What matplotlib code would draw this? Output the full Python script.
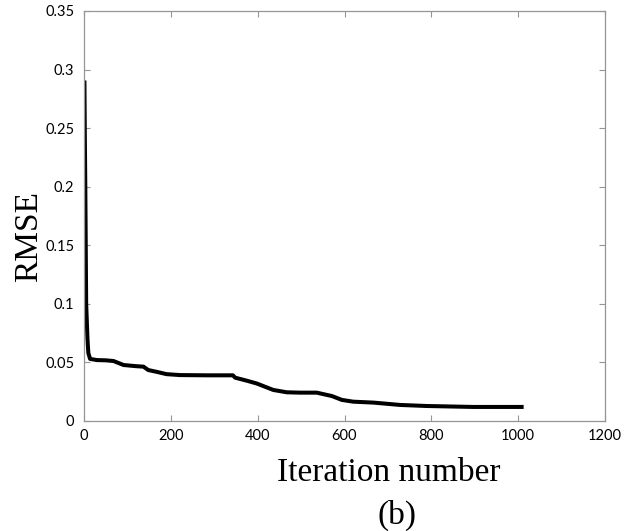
import numpy as np
import matplotlib
matplotlib.use("Agg")
import matplotlib.pyplot as plt

# RMSE vs iteration
iterations = [1, 2, 3, 5, 8, 10, 14, 30, 50, 68, 91, 120, 137, 148, 167, 190, 221,
              283, 343, 348, 375, 398, 436, 467, 498, 536, 571, 594, 620, 667,
              728, 790, 897, 1008]
rmse = [0.289, 0.24, 0.20, 0.10, 0.07, 0.058, 0.053, 0.052, 0.0518, 0.0512, 0.0478,
        0.0468, 0.0464, 0.0435, 0.042, 0.040, 0.0392, 0.039, 0.039, 0.037, 0.0344,
        0.032, 0.0265, 0.0245, 0.0242, 0.0242, 0.0213, 0.018, 0.0165, 0.0157,
        0.0137, 0.0128, 0.012, 0.012]

x_ticks = [0, 200, 400, 600, 800, 1000, 1200]
y_ticks = [0, 0.05, 0.1, 0.15, 0.2, 0.25, 0.3, 0.35]
y_tick_labels = ["0", "0.05", "0.1", "0.15", "0.2", "0.25", "0.3", "0.35"]

W, H = 631, 531
fig = plt.figure(figsize=(W / 100, H / 100), dpi=100)
ax = fig.add_axes([84 / W, 1 - 421 / H, (605 - 84) / W, (421 - 11) / H])

ax.plot(iterations, rmse, color="black", linewidth=2.9, solid_joinstyle="round")

ax.set_xlim(0, 1200)
ax.set_ylim(0, 0.35)
ax.set_xticks(x_ticks)
ax.set_yticks(y_ticks)
ax.set_yticklabels(y_tick_labels)

spine_gray = "#959595"
for s in ax.spines.values():
    s.set_color(spine_gray)
    s.set_linewidth(0.9)
ax.tick_params(direction="in", length=4, width=0.8, color=spine_gray,
               top=True, right=True, labelsize=10.5, labelcolor="black")
ax.tick_params(axis="x", pad=6)
ax.tick_params(axis="y", pad=7)
for lbl in ax.get_xticklabels() + ax.get_yticklabels():
    lbl.set_family("Lato")

serif = ["Liberation Serif", "DejaVu Serif"]
fig.text(389 / W, 1 - 481 / H, "Iteration number", family=serif, fontsize=24,
         ha="center", va="baseline")
fig.text(397 / W, 1 - 524 / H, "(b)", family=serif, fontsize=24,
         ha="center", va="baseline")
fig.text(29 / W, 1 - 237 / H, "RMSE", family=serif, fontsize=24,
         rotation=90, ha="center", va="center")

fig.savefig("out.png", dpi=100)
